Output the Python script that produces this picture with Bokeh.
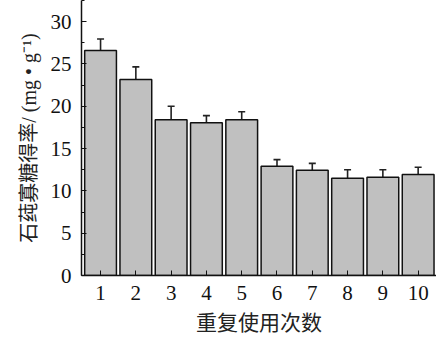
from bokeh.plotting import figure
from bokeh.models import ColumnDataSource, Whisker, SingleIntervalTicker, FixedTicker
from bokeh.embed import file_html
from bokeh.resources import INLINE

runs = [1, 2, 3, 4, 5, 6, 7, 8, 9, 10]
yield_vals = [26.6, 23.15, 18.4, 18.05, 18.4, 12.9, 12.45, 11.5, 11.6, 11.95]
err_vals = [1.35, 1.5, 1.6, 0.85, 0.95, 0.8, 0.8, 1.0, 0.9, 0.85]

src = ColumnDataSource(dict(
    x=runs, y=yield_vals,
    upper=[v + e for v, e in zip(yield_vals, err_vals)],
    lower=[v - e for v, e in zip(yield_vals, err_vals)],
))

p = figure(width=436, height=343, x_range=(0.46, 10.52), y_range=(0, 32.5),
           output_backend="svg", toolbar_location=None,
           min_border_left=81, min_border_right=0, min_border_top=0, min_border_bottom=68)
p.outline_line_color = None
p.xgrid.visible = False
p.ygrid.visible = False

p.vbar(x="x", top="y", width=0.9, source=src,
       fill_color="#c0c0c0", line_color="#111111", line_width=1.5)

w = Whisker(base="x", upper="upper", lower="lower", source=src,
            line_color="#222222", line_width=1.6)
for h in (w.upper_head, w.lower_head):
    h.size = 7
    h.line_width = 1.6
    h.line_color = "#222222"
p.add_layout(w)

font = "Liberation Serif"
mixed = "'Liberation Serif', 'Noto Sans CJK SC'"
p.yaxis.ticker = SingleIntervalTicker(interval=5, num_minor_ticks=2)
p.xaxis.ticker = FixedTicker(ticks=runs)
for ax in (p.xaxis, p.yaxis):
    ax.axis_line_color = "#111111"
    ax.axis_line_width = 1.5
    ax.major_tick_in = 5
    ax.major_tick_out = 0
    ax.minor_tick_in = 3
    ax.minor_tick_out = 0
    ax.major_tick_line_color = "#111111"
    ax.minor_tick_line_color = "#111111"
    ax.major_label_text_font = font
    ax.major_label_text_font_size = "21px"
    ax.major_label_text_color = "#111111"
    ax.axis_label_text_font_style = "normal"
    ax.axis_label_text_color = "#222222"
p.xaxis.minor_tick_line_color = None
p.yaxis.major_label_standoff = 10
p.xaxis.major_label_standoff = 10

p.xaxis.axis_label = "重复使用次数"
p.xaxis.axis_label_text_font = mixed
p.xaxis.axis_label_text_font_size = "21px"
p.xaxis.axis_label_standoff = 8

p.yaxis.axis_label = "石莼寡糖得率/ (mg • g⁻¹)"
p.yaxis.axis_label_text_font = mixed
p.yaxis.axis_label_text_font_size = "20px"
p.yaxis.axis_label_standoff = 8

open("out.html", "w").write(file_html(p, INLINE))
